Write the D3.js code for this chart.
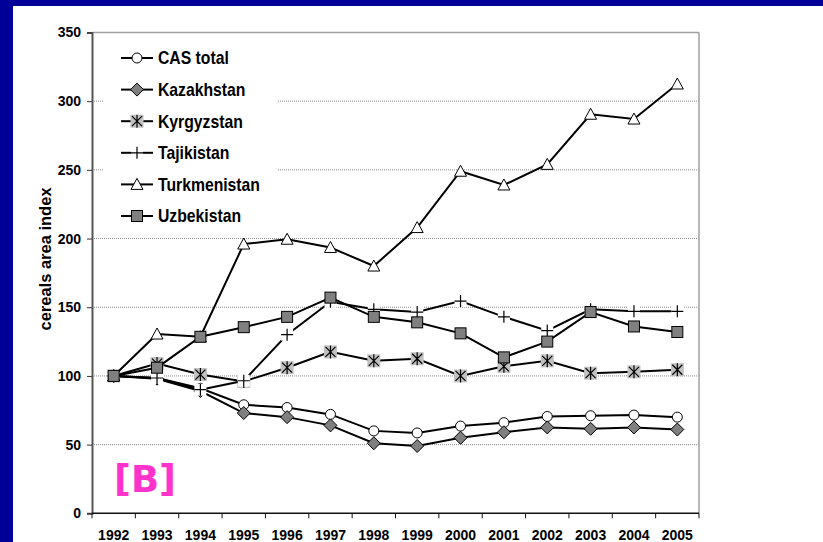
<!DOCTYPE html>
<html>
<head>
<meta charset="utf-8">
<script src="https://cdn.jsdelivr.net/npm/d3@7"></script>
<style>
  html, body { margin: 0; padding: 0; background: #fff; }
  svg { display: block; }
</style>
</head>
<body>
<svg id="chart" width="823" height="542"></svg>
<script>
// ---------------- data ----------------
const years = ["1992","1993","1994","1995","1996","1997","1998","1999","2000","2001","2002","2003","2004","2005"];
const yTicks = [0, 50, 100, 150, 200, 250, 300, 350];
const seriesNames = ["CAS total", "Kazakhstan", "Kyrgyzstan", "Tajikistan", "Turkmenistan", "Uzbekistan"];
const casTotal     = [100, 98.5, 91, 79, 77, 72, 60, 58.5, 63.5, 66, 70.5, 71, 71.5, 70];
const kazakhstan   = [100, 98, 89, 73, 70, 64, 51, 49, 55, 59, 62.5, 61.5, 62.5, 61];
const kyrgyzstan   = [100, 109, 101, 96, 106, 117.5, 111, 112.5, 100, 107, 111, 102, 103, 104.5];
const tajikistan   = [100, 98.5, 90, 96.5, 130, 154, 148.5, 146.5, 154.5, 143, 133, 148.5, 147, 147];
const turkmenistan = [100, 130.5, 128.5, 196, 199.5, 193.5, 180, 208, 249, 239, 254, 290.5, 287, 312.5];
const uzbekistan   = [100, 106, 128.5, 135.5, 143, 157, 143, 139, 131, 113.5, 125, 146.5, 136, 132];
const yTitle = "cereals area index";
const panelLabel = "[B]";

const seriesValues = [casTotal, kazakhstan, kyrgyzstan, tajikistan, turkmenistan, uzbekistan];
const markerKinds = ["circle", "diamond", "star", "plus", "triangle", "square"];

// ---------------- layout ----------------
const W = 823, H = 542;
const pLeft = 92, pRight = 699, pTop = 32.5, pBottom = 513.3;

const svg = d3.select("#chart");

function textWidth(font, s) {
  const c = document.createElement("canvas").getContext("2d");
  c.font = font; return c.measureText(s).width;
}
const narrowOK = Math.abs(textWidth("bold 14px 'Liberation Sans Narrow'", "19921993") - textWidth("bold 14px 'Liberation Sans'", "19921993")) > 2;
const narrowFamily = "'Liberation Sans Narrow', 'Arial Narrow', 'Liberation Sans', Arial, sans-serif";

// background frame
svg.append("rect").attr("x", 0).attr("y", 0).attr("width", W).attr("height", H).attr("fill", "#000099");
svg.append("rect").attr("x", 13).attr("y", 6).attr("width", W - 13).attr("height", H - 6).attr("fill", "#ffffff");

const x = d3.scaleBand().domain(years).range([pLeft, pRight]).padding(0);
const y = d3.scaleLinear().domain([0, 350]).range([pBottom, pTop]);

// gridlines
svg.append("g").selectAll("line").data(yTicks.filter(t => t > 0 && t < 350)).join("line")
  .attr("x1", pLeft).attr("x2", pRight)
  .attr("y1", d => y(d)).attr("y2", d => y(d))
  .attr("stroke", "#8c8c8c").attr("stroke-width", 1).attr("stroke-dasharray", "1,1");

// top & right border
svg.append("line").attr("x1", pLeft).attr("x2", pRight).attr("y1", y(350)).attr("y2", y(350))
  .attr("stroke", "#a0a0a0").attr("stroke-width", 1.5);
svg.append("line").attr("x1", pRight).attr("x2", pRight).attr("y1", y(350)).attr("y2", pBottom)
  .attr("stroke", "#a0a0a0").attr("stroke-width", 1.5);

// legend background (hides gridlines)
svg.append("rect").attr("x", 103).attr("y", 40).attr("width", 174).attr("height", 192).attr("fill", "#fff");

// axes
const yAxis = svg.append("g").attr("transform", `translate(${pLeft},0)`)
  .call(d3.axisLeft(y).tickValues(yTicks).tickSize(5).tickPadding(6).tickFormat(d3.format("d")));
yAxis.select(".domain").attr("stroke", "#555").attr("stroke-width", 2);
yAxis.selectAll(".tick line").attr("stroke", "#333").attr("stroke-width", 1);

const xAxis = svg.append("g").attr("transform", `translate(0,${pBottom})`)
  .call(d3.axisBottom(x).tickSize(0).tickPadding(17));
xAxis.select(".domain").remove();
svg.append("line").attr("x1", pLeft).attr("x2", pRight).attr("y1", pBottom).attr("y2", pBottom)
  .attr("stroke", "#111").attr("stroke-width", 1.5);
svg.append("g").selectAll("line").data(years.concat(["end"])).join("line")
  .attr("x1", (d, i) => pLeft + i * x.bandwidth()).attr("x2", (d, i) => pLeft + i * x.bandwidth())
  .attr("y1", pBottom).attr("y2", pBottom + 5).attr("stroke", "#111").attr("stroke-width", 1);

[yAxis, xAxis].forEach(g => {
  g.selectAll("text").attr("font-family", narrowFamily).attr("font-size", 14)
    .attr("font-weight", "bold").attr("fill", "#000");
});
if (!narrowOK) {
  yAxis.selectAll(".tick text").each(function() {
    const t = d3.select(this);
    const xx = +t.attr("x");
    t.attr("x", xx / 0.82).attr("transform", "scale(0.82,1)");
  });
  xAxis.selectAll(".tick text").attr("transform", "scale(0.82,1)");
}

// y title
svg.append("text").attr("transform", `translate(51,259) rotate(-90)`)
  .attr("text-anchor", "middle").attr("font-family", "'Liberation Sans', Arial, sans-serif")
  .attr("font-weight", "bold").attr("font-size", 16.5).text(yTitle);

// marker drawing
function drawMarker(g, kind, cx, cy) {
  const m = g.append("g").attr("transform", `translate(${cx},${cy})`);
  if (kind === "circle") {
    m.append("circle").attr("r", 5).attr("fill", "#fff").attr("stroke", "#000").attr("stroke-width", 1);
  } else if (kind === "diamond") {
    m.append("path").attr("d", "M0,-6.5L6.5,0L0,6.5L-6.5,0Z").attr("fill", "#808080").attr("stroke", "#000").attr("stroke-width", 1);
  } else if (kind === "star") {
    m.append("rect").attr("x", -6.5).attr("y", -6.5).attr("width", 13).attr("height", 13).attr("fill", "#c0c0c0");
    m.append("path").attr("d", "M-5,-5L5,5M-5,5L5,-5M0,-6.5L0,6.5").attr("stroke", "#000").attr("stroke-width", 1.2).attr("fill", "none");
  } else if (kind === "plus") {
    m.append("rect").attr("x", -6).attr("y", -6).attr("width", 12).attr("height", 12).attr("fill", "#fff");
    m.append("path").attr("d", "M-6,0L6,0M0,-6L0,6").attr("stroke", "#000").attr("stroke-width", 1.2).attr("fill", "none");
  } else if (kind === "triangle") {
    m.append("path").attr("d", "M0,-6L6,5L-6,5Z").attr("fill", "#fff").attr("stroke", "#000").attr("stroke-width", 1);
  } else if (kind === "square") {
    m.append("rect").attr("x", -5.5).attr("y", -5.5).attr("width", 11).attr("height", 11).attr("fill", "#808080").attr("stroke", "#000").attr("stroke-width", 1);
  }
}

const line = d3.line().x((d, i) => x(years[i]) + x.bandwidth() / 2).y(d => y(d));
const plot = svg.append("g");
seriesValues.forEach((vals, si) => {
  const g = plot.append("g");
  g.append("path").attr("d", line(vals)).attr("fill", "none").attr("stroke", "#000").attr("stroke-width", 2);
  vals.forEach((v, i) => drawMarker(g, markerKinds[si], x(years[i]) + x.bandwidth() / 2, y(v)));
});

// legend
const legY0 = 58, legStep = 31.6;
seriesNames.forEach((name, i) => {
  const cy = legY0 + i * legStep;
  const g = svg.append("g");
  g.append("line").attr("x1", 121).attr("x2", 153).attr("y1", cy).attr("y2", cy).attr("stroke", "#000").attr("stroke-width", 2);
  drawMarker(g, markerKinds[i], 137, cy);
  g.append("text").attr("transform", `translate(158,${cy + 6.3}) scale(0.9,1)`)
    .attr("font-family", "'Liberation Sans', Arial, sans-serif")
    .attr("font-weight", "bold").attr("font-size", 17.5).attr("fill", "#000").text(name);
});

// panel label
svg.append("text").attr("x", 114).attr("y", 492)
  .attr("font-family", "'DejaVu Sans', Verdana, sans-serif").attr("font-weight", "bold")
  .attr("font-size", 37).attr("fill", "#ff33cc").text(panelLabel);
</script>
</body>
</html>
